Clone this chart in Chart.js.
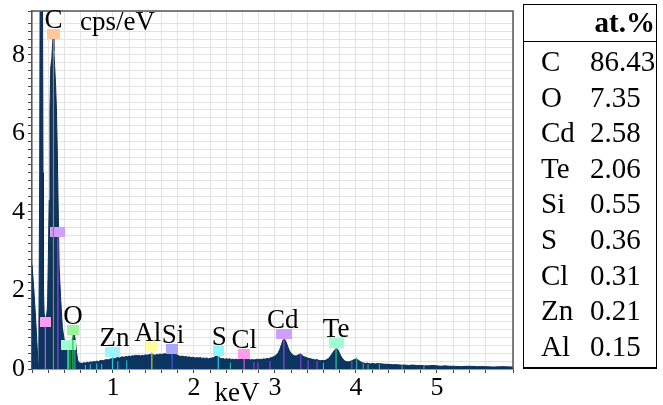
<!DOCTYPE html>
<html>
<head>
<meta charset="utf-8">
<script src="https://cdn.jsdelivr.net/npm/chart.js@4.4.1/dist/chart.umd.min.js"></script>
<style>
html,body{margin:0;padding:0;background:#fff;}
#wrap{position:relative;width:663px;height:405px;overflow:hidden;}
#c{position:absolute;left:0;top:0;}
.tb{position:absolute;font-family:'Liberation Serif','Times New Roman',serif;font-size:29px;color:#000;line-height:36px;height:36px;white-space:nowrap;}
.ln{position:absolute;background:#000;}
</style>
</head>
<body>
<div id="wrap">
<canvas id="c" width="663" height="405"></canvas>
</div>
<script>
// ---- spectrum (keV, cps/eV) ----
const energies = [
0.000,0.020,0.040,0.060,0.075,0.085,0.095,0.100,0.130,0.136,0.142,0.150,0.165,0.180,0.192,
0.200,0.213,0.222,0.232,0.245,0.255,0.262,0.270,0.280,0.292,0.302,0.312,0.322,0.335,0.355,
0.375,0.395,0.410,0.430,0.450,0.470,0.490,0.505,0.520,0.535,0.550,0.565,0.580,0.600,
0.62,0.64,0.66,0.68,0.70,0.72,0.74,0.76,0.78,0.80,0.82,0.84,0.86,0.88,0.90,0.92,0.94,0.96,0.98,
1.00,1.02,1.04,1.06,1.08,1.10,1.12,1.14,1.16,1.18,1.20,1.22,1.24,1.26,1.28,1.30,1.32,1.34,1.36,1.38,
1.40,1.42,1.44,1.46,1.48,1.50,1.52,1.54,1.56,1.58,1.60,1.62,1.64,1.66,1.68,1.70,1.72,1.74,1.76,1.78,
1.80,1.82,1.84,1.86,1.88,1.90,1.92,1.94,1.96,1.98,2.00,2.02,2.04,2.06,2.08,2.10,2.12,2.14,2.16,2.18,
2.20,2.22,2.24,2.26,2.28,2.30,2.32,2.34,2.36,2.38,2.40,2.42,2.44,2.46,2.48,2.50,2.52,2.54,2.56,2.58,
2.60,2.62,2.64,2.66,2.68,2.70,2.72,2.74,2.76,2.78,2.80,2.82,2.84,2.86,2.88,2.90,2.92,2.94,2.96,2.98,
3.00,3.02,3.04,3.06,3.08,3.10,3.12,3.14,3.16,3.18,3.20,3.22,3.24,3.26,3.28,3.30,3.32,3.34,3.36,3.38,
3.40,3.42,3.44,3.46,3.48,3.50,3.52,3.54,3.56,3.58,3.60,3.62,3.64,3.66,3.68,3.70,3.72,3.74,3.76,3.78,
3.80,3.82,3.84,3.86,3.88,3.90,3.92,3.94,3.96,3.98,4.00,4.02,4.04,4.06,4.08,4.10,4.12,4.14,4.16,4.18,
4.20,4.24,4.28,4.32,4.36,4.40,4.45,4.50,4.55,4.60,4.65,4.70,4.75,4.80,4.85,4.90,4.95,5.00,5.05,5.10,
5.15,5.20,5.30,5.40,5.50,5.60,5.70,5.80,5.94
];
const counts = [
2.65,2.10,1.45,0.70,0.12,0.80,5.00,9.40,9.40,5.00,2.00,1.40,1.30,1.35,1.60,
2.60,4.30,6.60,7.70,7.90,8.30,8.45,8.10,7.70,7.20,6.60,5.60,4.30,2.60,1.75,
1.05,0.78,0.68,0.62,0.60,0.66,0.72,0.80,0.88,0.74,0.42,0.22,0.16,0.15,
0.14,0.16,0.15,0.17,0.16,0.18,0.17,0.19,0.18,0.20,0.19,0.21,0.22,0.21,0.23,0.24,0.23,0.25,0.26,
0.27,0.26,0.28,0.29,0.28,0.30,0.31,0.30,0.32,0.31,0.33,0.32,0.34,0.33,0.35,0.34,0.35,0.33,0.35,0.34,
0.36,0.35,0.36,0.37,0.38,0.36,0.35,0.37,0.36,0.38,0.37,0.38,0.39,0.38,0.40,0.42,0.44,0.45,0.41,0.37,
0.35,0.33,0.32,0.33,0.31,0.32,0.30,0.31,0.29,0.30,0.29,0.28,0.29,0.28,0.29,0.27,0.28,0.27,0.28,0.26,
0.27,0.28,0.29,0.31,0.34,0.32,0.28,0.26,0.27,0.25,0.26,0.25,0.26,0.24,0.25,0.24,0.25,0.24,0.25,0.26,
0.27,0.28,0.25,0.24,0.25,0.23,0.24,0.23,0.24,0.25,0.24,0.25,0.24,0.26,0.25,0.27,0.26,0.28,0.29,0.31,
0.33,0.36,0.41,0.50,0.62,0.74,0.76,0.68,0.56,0.46,0.40,0.36,0.34,0.33,0.35,0.37,0.38,0.34,0.31,0.30,
0.28,0.27,0.26,0.25,0.24,0.23,0.24,0.22,0.21,0.22,0.21,0.22,0.24,0.27,0.31,0.37,0.43,0.49,0.53,0.48,
0.39,0.31,0.25,0.21,0.19,0.18,0.19,0.20,0.22,0.24,0.25,0.24,0.21,0.18,0.16,0.15,0.14,0.15,0.14,0.13,
0.14,0.13,0.14,0.13,0.12,0.12,0.11,0.11,0.10,0.10,0.09,0.10,0.09,0.09,0.08,0.08,0.09,0.08,0.07,0.08,
0.07,0.07,0.06,0.07,0.06,0.06,0.05,0.06,0.05
];

// ---- element markers ----
const markerNames    = ['C','','','O','','Zn','Al','Si','S','Cl','Cd','Te'];
const markerEnergies = [0.265,0.32,0.165,0.505,0.45,0.994,1.48,1.73,2.30,2.62,3.11,3.755];
const markerHeights  = [8.54,3.49,1.20,1.00,0.60,0.43,0.55,0.52,0.47,0.39,0.89,0.66];
// marker styles
const markerFills  = ['#ffc89a','#cf9eff','#ff9cf0','#9cf59c','#9effd2','#9ef5ff','#ffff9c','#a8a8ff','#8ff5ff','#ff9cf0','#cf9eff','#9effd2'];
const markerLines  = ['#c8782a','#a040e8','#e050d8','#30c030','#30c890','#30c8d8','#c8c830','#5050f0','#30c8d8','#e050d8','#a040e8','#30c890'];
const markerWidths = [13,15,11,12,15,15,12,12,11,12,16,15];
const labelShift   = [0,0,0,0,0,2,-4,1,1,0,-1,0];

// ---- minor element lines ----
const minorEnergies = [0.44,0.47,0.53,0.66,0.72,0.80,0.86,1.06,1.17,2.45,2.74,2.79,2.94,3.32,3.41,3.52,3.60,3.95,4.01,4.09,4.15,4.29,4.57,4.84];
const minorHeights  = [0.55,0.60,0.70,0.10,0.12,0.14,0.13,0.20,0.22,0.16,0.18,0.17,0.20,0.37,0.22,0.20,0.16,0.20,0.30,0.14,0.12,0.13,0.10,0.08];
const minorColors   = ['#30c890','#30c030','#30c890','#30c8d8','#30c8d8','#30c8d8','#30c890','#30c8d8','#30c8d8','#30c890','#a040e8','#a040e8','#a040e8','#a040e8','#a040e8','#a040e8','#30c890','#a040e8','#30c890','#30c890','#30c890','#30c890','#30c890','#30c890'];

// ---- table ----
const tableElements = ['C','O','Cd','Te','Si','S','Cl','Zn','Al'];
const tableValues   = ['86.43','7.35','2.58','2.06','0.55','0.36','0.31','0.21','0.15'];
const tableHeader = 'at.%';

// ---- axis ----
const xMin = 0, xMax = 5.94, yMin = 0, yMax = 9.12;
const xTickLabels = [1,2,3,4,5];
const yTickLabels = [0,2,4,6,8];
const yTitle = 'cps/eV', xTitle = 'keV';

const SERIF = "'Liberation Serif','Times New Roman',serif";

function makeBox(fill, w){
  const c = document.createElement('canvas');
  c.width = w; c.height = 10;
  const g = c.getContext('2d');
  g.fillStyle = fill; g.fillRect(0,0,w,10);
  return c;
}

const datasets = [];
datasets.push({
  type:'line', label:'spectrum',
  data: energies.map((e,i)=>({x:e,y:counts[i]})),
  borderColor:'#0a2d55', borderWidth:1, backgroundColor:'#0c3562',
  fill:'origin', pointRadius:0, tension:0, order:3
});
minorEnergies.forEach((e,i)=>{
  datasets.push({type:'line', data:[{x:e,y:0},{x:e,y:minorHeights[i]}],
    borderColor:minorColors[i], borderWidth:1, pointRadius:0, fill:false, order:2});
});
markerEnergies.forEach((e,i)=>{
  datasets.push({type:'line', data:[{x:e,y:0},{x:e,y:markerHeights[i]}],
    borderColor:markerLines[i], borderWidth:1.2, pointRadius:[0,6], pointHoverRadius:0,
    pointStyle: makeBox(markerFills[i], markerWidths[i]), fill:false, order:1});
});

const near = (v,t)=>Math.abs(v-t)<1e-6;

const textPlugin = {
  id:'texts',
  afterDatasetsDraw(chart){
    const {ctx, chartArea:a, scales:{x,y}} = chart;
    ctx.save();
    // frame top/right
    ctx.strokeStyle = '#555'; ctx.lineWidth = 1.5;
    ctx.beginPath(); ctx.moveTo(a.left, a.top); ctx.lineTo(a.right, a.top); ctx.lineTo(a.right, a.bottom); ctx.stroke();
    ctx.fillStyle = '#000';
    ctx.font = '27px ' + SERIF;
    ctx.textAlign = 'center'; ctx.textBaseline = 'alphabetic';
    markerNames.forEach((n,i)=>{
      if(!n) return;
      const px = x.getPixelForValue(markerEnergies[i]) + labelShift[i];
      const py = y.getPixelForValue(markerHeights[i]) - 5 - 1;
      ctx.fillText(n, px, py);
    });
    ctx.textAlign = 'left';
    ctx.fillText(yTitle, a.left + 48, a.top + 19);
    ctx.textAlign = 'center';
    ctx.fillText(xTitle, 237, 401);
    ctx.restore();
  }
};

new Chart(document.getElementById('c'), {
  type:'line',
  data:{datasets},
  options:{
    responsive:false, animation:false, devicePixelRatio:1,
    layout:{padding:{top:11,right:150,left:0,bottom:0}},
    plugins:{legend:{display:false}, tooltip:{enabled:false}},
    events:[],
    scales:{
      x:{type:'linear', min:xMin, max:xMax, offset:false,
        grid:{color:'#e3e3e3', lineWidth:1, tickColor:'#444', tickLength:4, drawTicks:true},
        border:{color:'#555', width:1.5},
        ticks:{stepSize:0.2, autoSkip:false, maxRotation:0, minRotation:0, padding:0,
          color:'#000', font:{family:SERIF, size:26},
          callback:(v)=>{ const t = xTickLabels.find(k=>near(v,k)); return t!==undefined ? String(t) : ''; }},
        afterFit(s){ s.height = 36; s.paddingLeft = 0; s.paddingRight = 0; }
      },
      y:{type:'linear', min:yMin, max:yMax,
        grid:{color:'#e3e3e3', lineWidth:1, tickColor:'#444', tickLength:4},
        border:{color:'#555', width:1.5},
        ticks:{stepSize:0.2, autoSkip:false, padding:3,
          color:'#000', font:{family:SERIF, size:26},
          callback:(v)=>{ const t = yTickLabels.find(k=>near(v,k)); return t!==undefined ? String(t) : ''; }},
        afterFit(s){ s.width = 32; s.paddingTop = 0; s.paddingBottom = 0; }
      }
    }
  },
  plugins:[textPlugin]
});

// ---- table (HTML text) ----
(function(){
  const wrap = document.getElementById('wrap');
  function line(l,t,w,h){ const d=document.createElement('div'); d.className='ln';
    d.style.left=l+'px'; d.style.top=t+'px'; d.style.width=w+'px'; d.style.height=h+'px'; wrap.appendChild(d); }
  function txt(s,l,t,bold,right){ const d=document.createElement('div'); d.className='tb'; d.textContent=s;
    if(right!==undefined){ d.style.right=right+'px'; } else { d.style.left=l+'px'; }
    d.style.top=t+'px'; if(bold) d.style.fontWeight='bold'; wrap.appendChild(d); }
  const L=523.5, R=656.5, T=4.5, B=368, H=41.5;
  line(L-0.75, T-0.75, R-L+1.5, 1.5);
  line(L-0.75, B-0.75, R-L+1.5, 1.5);
  line(L-0.75, T-0.75, 1.5, B-T+1.5);
  line(R-0.75, T-0.75, 1.5, B-T+1.5);
  line(L-0.75, H-0.75, R-L+1.5, 1.5);
  txt(tableHeader, 0, 22-18, true, 663-655);
  tableElements.forEach((e,i)=>{
    const cy = 61 + 35.6*i;
    txt(e, 541, cy-18, false);
    txt(tableValues[i], 590, cy-18, false);
  });
})();
</script>
</body>
</html>
